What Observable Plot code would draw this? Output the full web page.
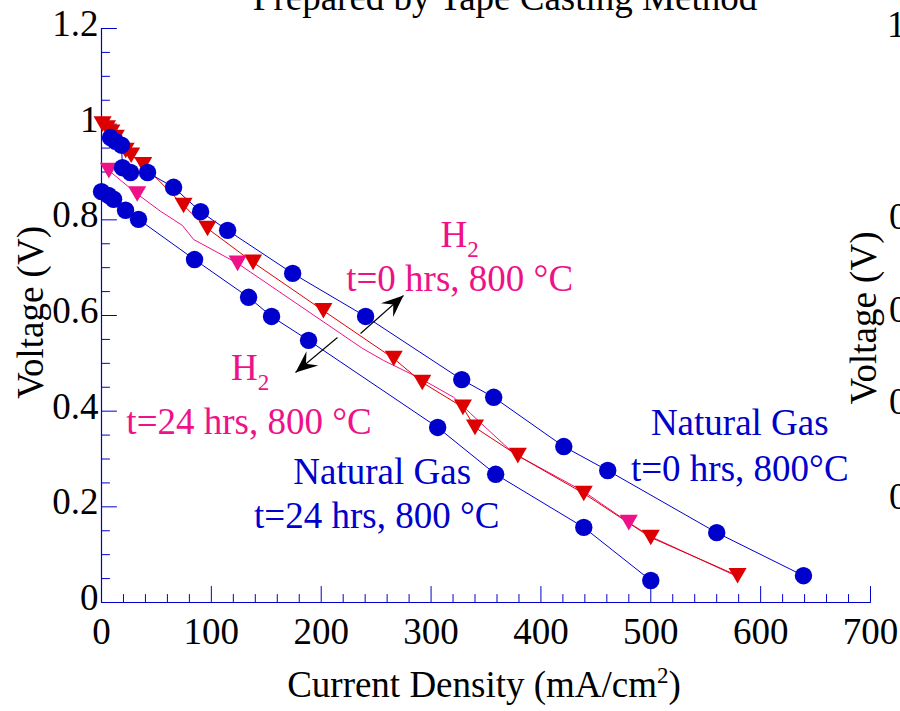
<!DOCTYPE html>
<html><head><meta charset="utf-8">
<script src="https://cdn.jsdelivr.net/npm/d3@7"></script>
<script src="https://cdn.jsdelivr.net/npm/@observablehq/plot@0.6"></script>
<style>
html,body{margin:0;padding:0;background:#fff;overflow:hidden;}
#wrap{position:relative;width:900px;height:711px;overflow:hidden;}
</style></head><body><div id="wrap"></div>
<script>
// ---------- data (current density mA/cm2, voltage V) ----------
const ng0Current  = [8.2,12.8,18.2,19.1,26.4,41.9,65.6,90.2,114.8,174,240.4,327.9,357,420.8,460.8,560,639];
const ng0Voltage  = [0.972,0.964,0.956,0.909,0.899,0.899,0.868,0.817,0.778,0.688,0.598,0.466,0.429,0.326,0.276,0.146,0.056];
const ng24Current = [0,6.4,11,21.9,33.7,84.7,133.9,154.8,188.5,306,358.8,439,500];
const ng24Voltage = [0.859,0.851,0.843,0.820,0.801,0.717,0.638,0.598,0.548,0.366,0.268,0.157,0.046];
const h0Current   = [1,5,9,13,22,27,38,74.7,96.5,138,202,266,292,329,340,379,439,500,579];
const h0Voltage   = [1.0,0.992,0.983,0.972,0.945,0.935,0.915,0.83,0.782,0.711,0.61,0.51,0.46,0.408,0.366,0.307,0.228,0.136,0.056];
const h24Current  = [6.7,32.5,53.7,73.8,83.8,123.9,237.7,256.8,290.5,320.6,336,375,439,480,500,579];
const h24Voltage  = [0.903,0.854,0.818,0.788,0.759,0.709,0.531,0.506,0.468,0.429,0.395,0.312,0.232,0.167,0.138,0.054];
const h24MarkCurrent = [6.7,32.5,123.9,480];
const h24MarkVoltage = [0.903,0.854,0.709,0.167];

const xTickLabels = [0,100,200,300,400,500,600,700];
const yTickLabels = [0,0.2,0.4,0.6,0.8,1,1.2];
const xMinorTicks = d3.range(0,701,20).filter(v => v % 100 !== 0);
const yMinorTicks = d3.range(0,25).filter(i => i % 4 !== 0).map(i => +(i*0.05).toFixed(2));

const annoText  = ["H2","t=0 hrs, 800 °C","H2","t=24 hrs, 800 °C","Natural Gas","t=24 hrs, 800 °C","Natural Gas","t=0 hrs, 800°C"];
const annoX     = [326,326,135.2,134.3,255.5,250.5,581,581];
const annoY     = [0.767,0.675,0.489,0.376,0.2735,0.1815,0.374,0.2797];
const annoColor = ["pink","pink","pink","pink","blue","blue","blue","blue"];

const arrowX1 = [235.8,214.8], arrowY1 = [0.5624,0.554];
const arrowX2 = [274.9,176.6], arrowY2 = [0.6418,0.4808];

// neighbouring (cropped) panel's tick labels
const neighbourTicks = ["1.2","0.8","0.6","0.4","0.2"];

// ---------- styling ----------
const BLUE = "#0000cc", RED = "#dd0000", PINK = "#ee1188";
const FONT = "'Liberation Serif','Times New Roman',serif";
const FS = 37;
const W = 900, H = 711, ML = 101, MR = 30, MT = 28, MB = 109;

const rows = (xs, ys) => xs.map((x,i) => ({x, y: ys[i]}));
const ng0 = rows(ng0Current, ng0Voltage), ng24 = rows(ng24Current, ng24Voltage);
const h0 = rows(h0Current, h0Voltage), h24 = rows(h24Current, h24Voltage);
const h24m = rows(h24MarkCurrent, h24MarkVoltage);
const annos = annoText.map((t,i) => ({text: t, x: annoX[i], y: annoY[i], c: annoColor[i] === "pink" ? PINK : BLUE}));
const arrows = arrowX1.map((x1,i) => ({x1, y1: arrowY1[i], x2: arrowX2[i], y2: arrowY2[i]}));

const sx = (W-ML-MR)/700, sy = (H-MT-MB)/1.2;
const angle = a => Math.atan2((a.x2-a.x1)*sx, (a.y2-a.y1)*sy) * 180 / Math.PI;

const tickShape = {draw(ctx, l) { ctx.moveTo(0,0); ctx.lineTo(0,-l); }};
const headSym = {draw(ctx, size) {
  const L = Math.sqrt(size/Math.PI)*2;
  ctx.moveTo(0,0); ctx.lineTo(-0.42*L, L); ctx.lineTo(0, 0.62*L); ctx.lineTo(0.42*L, L); ctx.closePath();
}};

const plot = Plot.plot({
  width: W, height: H,
  marginLeft: ML, marginRight: MR, marginTop: MT, marginBottom: MB,
  x: {domain: [0,700], axis: null},
  y: {domain: [0,1.2], axis: null},
  style: {fontFamily: FONT, background: "white", overflow: "hidden"},
  marks: [
    // axes
    Plot.ruleX([0], {stroke: BLUE, strokeWidth: 1.2}),
    Plot.ruleY([0], {stroke: BLUE, strokeWidth: 1.2}),
    Plot.vector(xTickLabels, {x: d=>d, y: 0, length: 16, rotate: 0, anchor: "start", shape: tickShape, stroke: BLUE, strokeWidth: 1}),
    Plot.vector(xMinorTicks, {x: d=>d, y: 0, length: 8, rotate: 0, anchor: "start", shape: tickShape, stroke: BLUE, strokeWidth: 1}),
    Plot.vector(yTickLabels, {x: 0, y: d=>d, length: 15, rotate: 90, anchor: "start", shape: tickShape, stroke: BLUE, strokeWidth: 1}),
    Plot.vector(yMinorTicks, {x: 0, y: d=>d, length: 8, rotate: 90, anchor: "start", shape: tickShape, stroke: BLUE, strokeWidth: 1}),
    Plot.text(xTickLabels, {x: d=>d, y: 0, text: d=>String(d), dy: 30, fontSize: FS, fill: "black"}),
    Plot.text(yTickLabels, {x: 0, y: d=>d, text: d=>String(d), textAnchor: "end", dx: -3, dy: -4.5, fontSize: FS, fill: "black"}),
    Plot.text(["Current Density (mA/cm2)"], {frameAnchor: "bottom", textAnchor: "middle", lineAnchor: "middle", dx: -2, dy: 83, fontSize: FS, fill: "black"}),
    Plot.text(["Voltage (V)"], {frameAnchor: "left", textAnchor: "middle", lineAnchor: "middle", rotate: -90, dx: -70, dy: -3, fontSize: FS, fill: "black"}),
    // series lines
    Plot.line(h24, {x: "x", y: "y", stroke: PINK, strokeWidth: 1}),
    Plot.line(h0, {x: "x", y: "y", stroke: RED, strokeWidth: 1}),
    Plot.line(ng24, {x: "x", y: "y", stroke: BLUE, strokeWidth: 1}),
    Plot.line(ng0, {x: "x", y: "y", stroke: BLUE, strokeWidth: 1}),
    // markers
    Plot.dot(h0, {x: "x", y: "y", symbol: "triangle", rotate: 180, r: 6.7, dy: -2.6, fill: RED}),
    Plot.dot(h24m, {x: "x", y: "y", symbol: "triangle", rotate: 180, r: 6.7, dy: -2.6, fill: PINK}),
    Plot.dot(ng24, {x: "x", y: "y", r: 8.7, fill: BLUE}),
    Plot.dot(ng0, {x: "x", y: "y", r: 8.7, fill: BLUE}),
    // arrows
    Plot.link(arrows, {x1: "x1", y1: "y1", x2: "x2", y2: "y2", stroke: "black", strokeWidth: 1.1}),
    Plot.dot(arrows, {x: "x2", y: "y2", symbol: headSym, r: 11, fill: "black", rotate: d => angle(d)}),
    // annotations
    Plot.text(annos, {x: "x", y: "y", text: "text", fill: "c", fontSize: FS})
  ]
});

// decorative text outside the plotting frame: cropped title and neighbouring panel fragments
const svgns = "http://www.w3.org/2000/svg";
function addText(str, x, y, opts={}) {
  const t = document.createElementNS(svgns, "text");
  t.setAttribute("x", x); t.setAttribute("y", y);
  t.setAttribute("font-size", opts.fs || FS);
  t.setAttribute("font-family", FONT);
  t.setAttribute("fill", "black");
  t.setAttribute("text-anchor", opts.anchor || "start");
  if (opts.rotate) t.setAttribute("transform", `rotate(${opts.rotate},${x},${y})`);
  t.textContent = str;
  plot.appendChild(t);
}
addText("Prepared by Tape Casting Method", 505, 10, {anchor: "middle"});
const neighbourY = [37, 229, 322, 414, 509];
neighbourTicks.forEach((s,i) => addText(s, i === 0 ? 887 : 889, neighbourY[i]));
addText("Voltage (V)", 876, 318, {rotate: -90, anchor: "middle"});

// sub/superscripts
plot.querySelectorAll("text").forEach(t => {
  if (t.textContent === "H2") {
    t.textContent = "H";
    const s = document.createElementNS(svgns, "tspan");
    s.setAttribute("dy", "10"); s.setAttribute("font-size", "23"); s.textContent = "2";
    t.appendChild(s);
  } else if (t.textContent === "Current Density (mA/cm2)") {
    t.textContent = "Current Density (mA/cm";
    const s = document.createElementNS(svgns, "tspan");
    s.setAttribute("dy", "-14"); s.setAttribute("font-size", "23"); s.textContent = "2";
    const p = document.createElementNS(svgns, "tspan");
    p.setAttribute("dy", "14"); p.setAttribute("font-size", String(FS)); p.textContent = ")";
    t.appendChild(s); t.appendChild(p);
  }
});
document.getElementById("wrap").appendChild(plot);
</script>
</body></html>
